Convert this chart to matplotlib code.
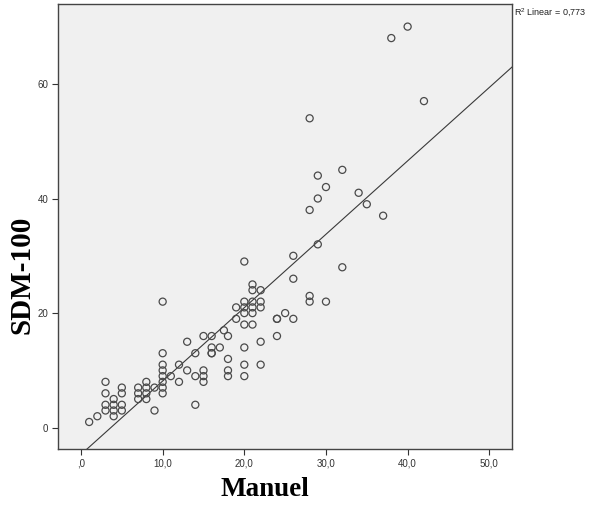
import numpy as np
import matplotlib
matplotlib.use("Agg")
import matplotlib.pyplot as plt

# Data (Manuel vs SDM-100)
manuel = [1, 2,
          3, 3, 3, 3,
          4, 4, 4, 4,
          5, 5, 5, 5,
          7, 7, 7,
          8, 8, 8, 8,
          9, 9,
          10, 10, 10, 10, 10, 10, 10, 10,
          11,
          12, 12,
          13, 13,
          14, 14, 14,
          15, 15, 15, 15,
          16, 16, 16, 16,
          17, 17.5,
          18, 18, 18, 18,
          19, 19,
          20, 20, 20, 20, 20, 20, 20, 20,
          21, 21, 21, 21, 21, 21,
          22, 22, 22, 22, 22,
          24, 24, 24,
          25,
          26, 26, 26,
          28, 28, 28, 28,
          29, 29, 29,
          30, 30,
          32, 32,
          34, 35, 37, 38, 40, 42]
sdm = [1, 2,
       8, 6, 4, 3,
       5, 4, 3, 2,
       7, 6, 4, 3,
       7, 6, 5,
       8, 7, 6, 5,
       7, 3,
       22, 13, 11, 10, 9, 8, 7, 6,
       9,
       11, 8,
       15, 10,
       13, 9, 4,
       16, 10, 9, 8,
       16, 14, 13, 13,
       14, 17,
       16, 12, 10, 9,
       21, 19,
       29, 22, 21, 20, 18, 14, 11, 9,
       25, 24, 22, 21, 20, 18,
       24, 22, 21, 15, 11,
       19, 19, 16,
       20,
       30, 26, 19,
       54, 38, 23, 22,
       44, 40, 32,
       42, 22,
       45, 28,
       41, 39, 37, 68, 70, 57]
x_ticks = [0, 10, 20, 30, 40, 50]
x_tick_labels = [",0", "10,0", "20,0", "30,0", "40,0", "50,0"]
y_ticks = [0, 20, 40, 60]
y_tick_labels = ["0", "20", "40", "60"]
r2_label = "R$^{2}$ Linear = 0,773"

plt.rcParams['mathtext.default'] = 'regular'
fig = plt.figure(figsize=(5.91, 5.24), dpi=100)
ax = fig.add_axes([0.0981, 0.1431, 0.7682, 0.8493])
ax.set_facecolor("#f0f0f0")

x = np.array(manuel, dtype=float)
y = np.array(sdm, dtype=float)
ax.scatter(x, y, s=26, facecolors="none", edgecolors="#4a4a4a", linewidths=0.9, zorder=3)

xlim = (-2.82, 52.78)
ylim = (-3.72, 73.95)
slope, intercept = np.polyfit(x, y, 1)
xs = np.array(xlim)
ax.plot(xs, slope * xs + intercept, color="#3a3a3a", linewidth=0.8, zorder=2)

ax.set_xlim(*xlim)
ax.set_ylim(*ylim)
ax.set_xticks(x_ticks)
ax.set_xticklabels(x_tick_labels)
ax.set_yticks(y_ticks)
ax.set_yticklabels(y_tick_labels)
ax.tick_params(direction="out", length=4, width=0.8, color="#333333",
               labelsize=7, labelcolor="#333333", pad=3)
for lab in ax.get_xticklabels() + ax.get_yticklabels():
    lab.set_family("Liberation Sans")
for sp in ax.spines.values():
    sp.set_color("#444444")
    sp.set_linewidth(1.0)

ax.set_xlabel("Manuel", family="Liberation Serif", fontweight="bold", fontsize=19.5)
ax.set_ylabel("SDM-100", family="Liberation Serif", fontweight="bold", fontsize=21)
ax.xaxis.set_label_coords(0.456, -0.092)
ax.xaxis.label.set_va("center")
ax.yaxis.set_label_coords(-0.079, 0.391)
ax.yaxis.label.set_va("center")

fig.text(514 / 591, 1 - 13 / 524, r2_label, fontsize=6.5, family="Liberation Sans",
         color="#222222", va="center", ha="left")

fig.savefig("out.png", dpi=100)
